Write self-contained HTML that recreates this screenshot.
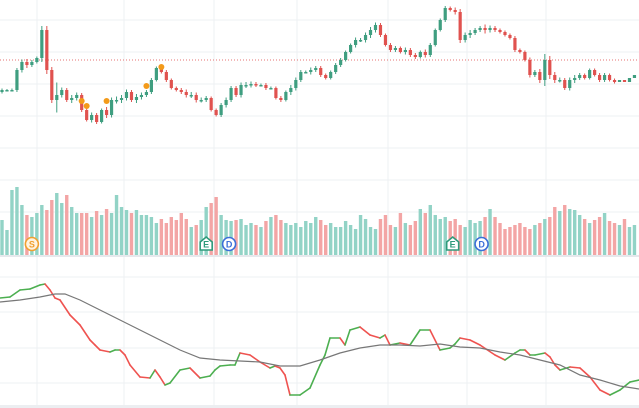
<!DOCTYPE html>
<html><head><meta charset="utf-8"><style>
html,body{margin:0;padding:0;background:#fff;width:639px;height:408px;overflow:hidden}
svg{display:block;font-family:"Liberation Sans",sans-serif}
</style></head><body>
<svg id="c" width="639" height="408" viewBox="0 0 639 408"></svg>
<script>
const closes=[110,110,110,130,138,135,138,142,170,130,100,105,110,100,102,105,90,80,85,78,90,85,100,100,102,108,100,103,105,108,120,132,128,120,112,110,108,105,105,100,100,102,90,85,95,100,112,105,115,115,116,115,115,112,112,102,100,108,112,120,128,128,130,132,125,122,128,135,140,148,155,160,160,165,170,175,165,155,150,152,148,150,145,143,148,145,155,170,180,192,190,188,160,165,167,170,172,170,172,170,168,165,162,150,148,140,125,128,120,140,125,120,120,112,120,122,125,122,130,125,120,125,120,118,120,118,122,125];
const wick=[3,2,3,4,5,6,4,3,8,8,6,25,5,4,6,5,4,3,5,4,3,6,5,7,6,5,4,6,5,4,4,3,3,4,3,3,4,5,6,5,5,4,3,3,4,5,4,4,5,6,5,4,3,4,3,3,4,3,6,5,4,3,5,4,4,3,3,4,4,3,3,5,4,5,6,5,4,3,4,4,3,5,4,4,3,5,4,3,3,4,3,5,6,5,6,4,4,7,5,4,3,3,3,4,3,3,5,4,6,12,8,6,5,4,5,6,4,3,3,3,4,4,3,3];
const volumes=[35,25,65,68,50,40,38,42,50,45,55,62,52,60,48,42,42,42,38,44,40,46,42,60,48,45,42,45,40,40,38,32,36,32,38,35,42,36,28,30,35,48,52,58,40,35,34,35,36,30,32,30,28,34,38,40,35,32,30,32,28,34,32,38,35,30,32,28,28,34,30,26,40,36,28,26,36,40,30,28,42,32,30,34,46,42,50,40,36,38,34,36,30,28,35,32,34,38,46,38,32,26,28,30,32,28,26,30,32,36,38,48,44,50,46,45,40,36,32,35,38,42,34,32,30,36,28,30];
const oscX=[0,10,20,30,40,45,50,55,60,70,80,90,95,100,110,115,120,125,130,140,150,155,160,165,170,180,190,200,210,215,220,230,235,240,250,260,270,275,280,285,290,300,310,320,325,330,340,345,350,360,370,380,385,390,400,410,420,430,440,450,455,460,470,480,495,505,515,520,525,530,535,545,550,555,560,570,580,590,600,610,620,630,639];
const oscV=[102,103,110,111,115,116,110,102,100,85,75,60,55,50,48,50,50,45,35,23,22,30,23,15,17,30,32,22,24,30,34,35,35,47,45,38,32,34,32,25,5,5,12,35,45,62,62,55,70,73,65,62,65,55,57,55,70,70,50,52,56,62,60,55,45,40,47,50,50,45,45,47,43,35,30,33,32,23,10,5,10,18,20];
const maX=[0,20,40,55,65,80,100,120,140,160,180,200,220,240,260,280,300,320,340,360,380,400,420,440,460,480,500,520,540,560,580,600,620,639];
const maV=[98,100,103,106,106,100,90,80,70,60,50,42,40,39,38,34,34,40,47,52,55,55,54,56,53,52,48,45,40,35,25,20,14,11];
const dots=[[16,99],[17,94],[21,99],[29,114],[32,133]];
const events=[["S",6,"#f0a030"],["E",41,"#2e9a7a"],["D",45.6,"#3b6fd8"],["E",90.5,"#2e9a7a"],["D",96.3,"#3b6fd8"]];

const svg=document.getElementById('c');const NS='http://www.w3.org/2000/svg';
function mk(t,a,p){const e=document.createElementNS(NS,t);for(const k in a)e.setAttribute(k,a[k]);(p||svg).appendChild(e);return e;}
const xs=i=>2+i*4.98;
const py=v=>200-v;
const vy=v=>255-v;
const oy=v=>400-v;
const g=mk('g',{});
[20,52,84,116,148,180,212,277,312,348,383].forEach(y=>mk('line',{x1:0,x2:639,y1:y,y2:y,stroke:'#eef0f3','stroke-width':1},g));
[37,124,214,297,388,467,546].forEach(x=>mk('line',{x1:x,x2:x,y1:0,y2:406,stroke:'#eef0f3','stroke-width':1},g));
mk('rect',{x:0,y:255,width:639,height:2,fill:'#e6e8ec'});
mk('rect',{x:0,y:405,width:639,height:3,fill:'#eceef1'});
const ref=mk('line',{x1:0,x2:639,y1:60,y2:60,stroke:'#e57373','stroke-width':1,'stroke-dasharray':'1 2'});

const vg=mk('g',{});
volumes.forEach((v,i)=>{const up=i==0?true:closes[i]>=closes[i-1];
const r=mk('rect',{x:xs(i)-1.7,y:vy(v),width:3.4,height:v,fill:up?'#92d3c6':'#f3a5a5'},vg);
});
const cg=mk('g',{});
closes.forEach((c,i)=>{const o=i==0?c-2:closes[i-1];const up=c>=o;const col=up?'#3f9e80':'#e0524f';
const hi=Math.max(o,c)+wick[i]*0.5,lo=Math.min(o,c)-wick[i]*0.5;
mk('line',{x1:xs(i),x2:xs(i),y1:py(hi),y2:py(lo),stroke:col,'stroke-width':1},cg);
const top=py(Math.max(o,c)),h=Math.max(1.5,Math.abs(c-o));
const r=mk('rect',{x:xs(i)-1.6,y:top,width:3.2,height:h,fill:col},cg);
});
dots.forEach(d=>{const e=mk('circle',{cx:xs(d[0]),cy:py(d[1]),r:3,fill:'#f39a1a'});
});
events.forEach(ev=>{const x=xs(ev[1]),y=244;const gg=mk('g',{});

if(ev[0]=='E'){mk('path',{d:`M${x-6} ${y+6}V${y-2}L${x} ${y-7}L${x+6} ${y-2}V${y+6}Z`,fill:'#fff',stroke:ev[2],'stroke-width':1.6},gg);}
else{mk('circle',{cx:x,cy:y,r:6.5,fill:ev[0]=='S'?'#fff3e0':'#fff',stroke:ev[2],'stroke-width':1.6},gg);}
const t=mk('text',{x:x,y:y+3.5,'text-anchor':'middle','font-size':9,'font-weight':'bold',fill:ev[2]},gg);t.textContent=ev[0];});
const og=mk('g',{});
for(let i=1;i<oscX.length;i++){const up=oscV[i]>=oscV[i-1];
mk('line',{x1:oscX[i-1],y1:oy(oscV[i-1]),x2:oscX[i],y2:oy(oscV[i]),stroke:up?'#4caf50':'#ef5350','stroke-width':1.6,'stroke-linecap':'round'},og);}
const ma=mk('polyline',{points:maX.map((x,i)=>x+','+oy(maV[i])).join(' '),fill:'none',stroke:'#777','stroke-width':1.2});

</script></body></html>
